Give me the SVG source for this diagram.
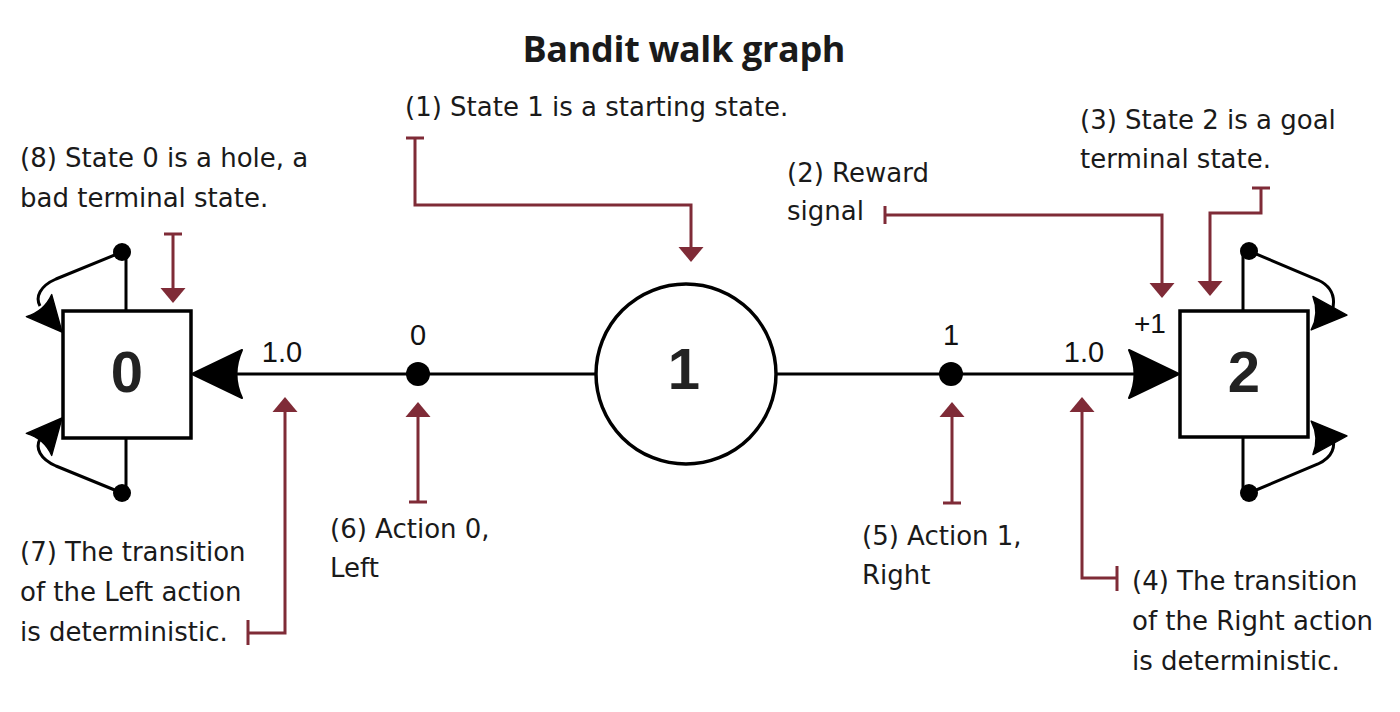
<svg xmlns="http://www.w3.org/2000/svg" xmlns:xlink="http://www.w3.org/1999/xlink" width="1400" height="712" viewBox="0 0 1400 712">
<style>
  .title{font-family:"Open Sans","Liberation Sans",sans-serif;font-weight:700;font-size:36px;fill:#1a1a1a}
  .node{fill:#fff;stroke:#000;stroke-width:3.5}
  .nlabel{font-family:"Liberation Sans",Arial,sans-serif;font-weight:700;font-size:58px;fill:#222;text-anchor:middle}
  .num{font-family:"Liberation Sans",Arial,sans-serif;font-size:29px;fill:#111}
  .edge{fill:none;stroke:#000;stroke-width:3}
  .dot{fill:#000}
  .head{fill:#000;stroke:#000;stroke-width:2;stroke-linejoin:round}
  .ann{fill:none;stroke:#7f2b37;stroke-width:3}
  .annhead{fill:#7f2b37}
  .note{font-family:"DejaVu Sans","Noto Sans",sans-serif;font-size:26px;fill:#1a1a1a}
</style>
<defs>
  <path id="head" d="M0,0 L-50,-24 Q-39,0 -50,24 Z"/>
  <path id="rhead" d="M0,0 L-12.5,-15 L12.5,-15 Z"/>
</defs>

<rect width="1400" height="712" fill="#fff"/>

<text class="title" x="684" y="62" text-anchor="middle" textLength="323">Bandit walk graph</text>

<g id="connectors">
  <!-- main transitions -->
  <line class="edge" x1="200" y1="374" x2="596" y2="374"/>
  <line class="edge" x1="776" y1="374" x2="1172" y2="374"/>
  <circle class="dot" cx="418" cy="374" r="12"/>
  <circle class="dot" cx="951" cy="374" r="12"/>
  <use class="head" href="#head" transform="translate(192,374) rotate(180)"/>
  <use class="head" href="#head" transform="translate(1179,374)"/>
  <!-- self loops state 0 -->
  <path class="edge" d="M126,311 V252 M122,252 L56,279 C40,286 35,297 40,306"/>
  <path class="edge" d="M126,438 V493 M122,493 L56,466 C40,459 35,448 40,439"/>
  <circle class="dot" cx="122" cy="252" r="9"/>
  <circle class="dot" cx="122" cy="493" r="9"/>
  <use class="head" href="#head" transform="translate(62,332) rotate(49) scale(0.7)"/>
  <use class="head" href="#head" transform="translate(62,418) rotate(-49) scale(0.7)"/>
  <!-- self loops state 2 -->
  <path class="edge" d="M1243,311 V251 M1249,251 L1318,280 C1333,287 1336,298 1332,312"/>
  <path class="edge" d="M1243,437 V493 M1249,493 L1318,464 C1333,457 1336,446 1332,436"/>
  <circle class="dot" cx="1249" cy="251" r="9"/>
  <circle class="dot" cx="1249" cy="493" r="9"/>
  <use class="head" href="#head" transform="translate(1347,315) rotate(3) scale(0.7)"/>
  <use class="head" href="#head" transform="translate(1347,436) rotate(-3) scale(0.7)"/>

  <!-- annotation connectors -->
  <!-- (1) -->
  <path class="ann" d="M406,138 H424 M415,138 V205 H691 V250"/>
  <use class="annhead" href="#rhead" transform="translate(691,262)"/>
  <!-- (2) -->
  <path class="ann" d="M885,206 V224 M885,215 H1162 V286"/>
  <use class="annhead" href="#rhead" transform="translate(1162,298)"/>
  <!-- (3) -->
  <path class="ann" d="M1252,188 H1270 M1261,188 V213 H1210 V284"/>
  <use class="annhead" href="#rhead" transform="translate(1210,296)"/>
  <!-- (8) -->
  <path class="ann" d="M164,234 H182 M173,234 V291"/>
  <use class="annhead" href="#rhead" transform="translate(173,303)"/>
  <!-- (7) -->
  <path class="ann" d="M248,620 V645 M248,633 H285 V409"/>
  <use class="annhead" href="#rhead" transform="translate(285,397) rotate(180)"/>
  <!-- (6) -->
  <path class="ann" d="M409,502 H427 M418,502 V414"/>
  <use class="annhead" href="#rhead" transform="translate(418,402) rotate(180)"/>
  <!-- (5) -->
  <path class="ann" d="M943,503 H961 M952,503 V414"/>
  <use class="annhead" href="#rhead" transform="translate(952,402) rotate(180)"/>
  <!-- (4) -->
  <path class="ann" d="M1117,566 V591 M1117,578 H1082 V409"/>
  <use class="annhead" href="#rhead" transform="translate(1082,397) rotate(180)"/>
</g>

<g id="node-0">
  <rect class="node" x="63" y="311" width="128" height="127"/>
  <text class="nlabel" x="127" y="392">0</text>
</g>
<g id="node-1">
  <circle class="node" cx="686" cy="374" r="90"/>
  <text class="nlabel" x="684" y="389">1</text>
</g>
<g id="node-2">
  <rect class="node" x="1180" y="311" width="128" height="126"/>
  <text class="nlabel" x="1244" y="392">2</text>
</g>

<g id="edge-labels">
  <text class="num" x="418" y="345" text-anchor="middle">0</text>
  <text class="num" x="951" y="345" text-anchor="middle">1</text>
  <text class="num" x="282" y="362" text-anchor="middle">1.0</text>
  <text class="num" x="1084" y="362" text-anchor="middle">1.0</text>
  <text class="num" x="1134" y="333" style="font-size:28px">+1</text>
</g>

<g id="note-1"><text class="note" x="405" y="116">(1) State 1 is a starting state.</text></g>
<g id="note-2">
  <text class="note" x="787" y="182">(2) Reward</text>
  <text class="note" x="787" y="220">signal</text>
</g>
<g id="note-3">
  <text class="note" x="1080" y="129">(3) State 2 is a goal</text>
  <text class="note" x="1080" y="168">terminal state.</text>
</g>
<g id="note-8">
  <text class="note" x="20" y="167">(8) State 0 is a hole, a</text>
  <text class="note" x="20" y="207">bad terminal state.</text>
</g>
<g id="note-7">
  <text class="note" x="20" y="561">(7) The transition</text>
  <text class="note" x="20" y="601">of the Left action</text>
  <text class="note" x="20" y="641">is deterministic.</text>
</g>
<g id="note-6">
  <text class="note" x="330" y="538">(6) Action 0,</text>
  <text class="note" x="330" y="577">Left</text>
</g>
<g id="note-5">
  <text class="note" x="862" y="545">(5) Action 1,</text>
  <text class="note" x="862" y="584">Right</text>
</g>
<g id="note-4">
  <text class="note" x="1132" y="590">(4) The transition</text>
  <text class="note" x="1132" y="630">of the Right action</text>
  <text class="note" x="1132" y="670">is deterministic.</text>
</g>
</svg>
